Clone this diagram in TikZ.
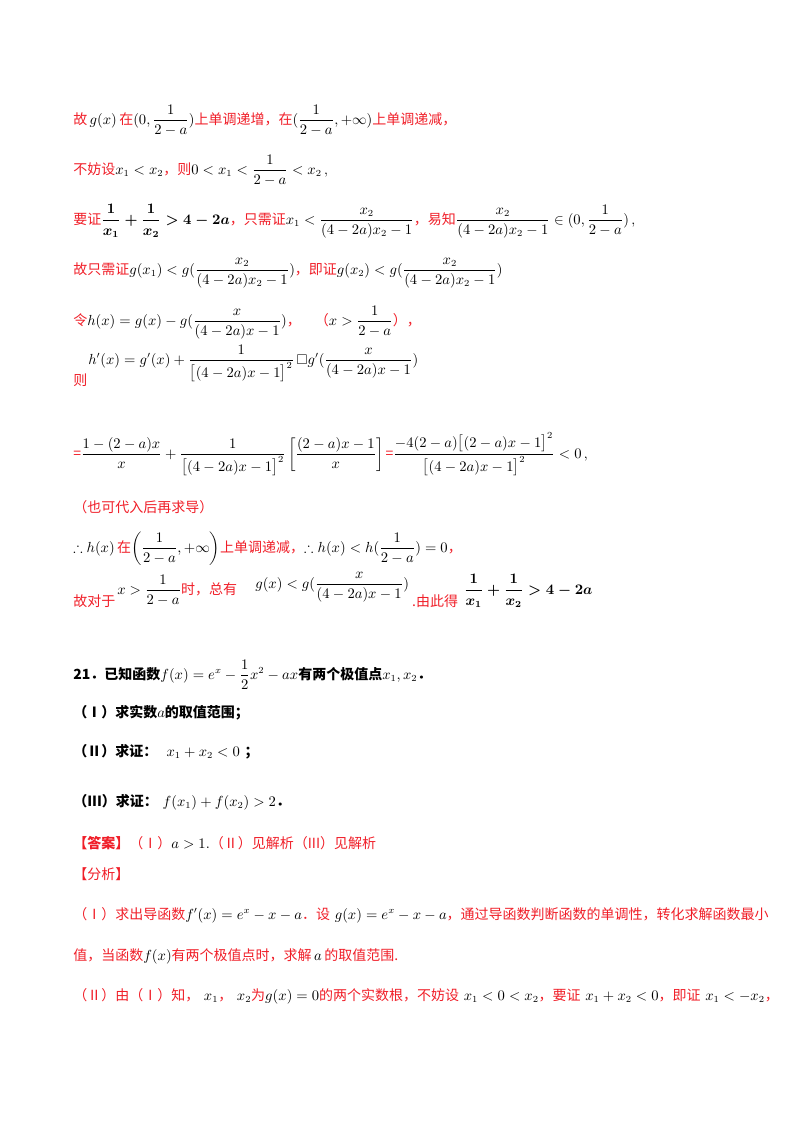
\documentclass[tikz,border=0pt]{standalone}
\usepackage{amsmath,amssymb}
\usepackage{fontspec}
\newfontfamily\cjk{Noto Sans CJK SC}
\definecolor{rd}{RGB}{240,30,40}
\newcommand{\R}[1]{{\cjk\color{rd}#1}}
\newcommand{\B}[1]{{\cjk\bfseries #1}}
\begin{document}
\begin{tikzpicture}[x=0.75pt,y=-0.75pt,line/.style={anchor=base west,inner sep=0pt,font=\fontsize{10.5}{12}\selectfont}]
\useasboundingbox (0,0) rectangle (800,1132);
\node[line] (l1) at (73,124) {\R{故}$\,g(x)\,$\R{在}$(0,\dfrac{1}{2-a})$\R{上单调递增，在}$(\dfrac{1}{2-a},+\infty)$\R{上单调递减，}};
\node[line] (l2) at (73,174) {\R{不妨设}$x_1<x_2$\R{，则}$0<x_1<\dfrac{1}{2-a}<x_2$\,,};
\node[line] (l3) at (73,224) {\R{要证}$\boldsymbol{\dfrac{1}{x_1}+\dfrac{1}{x_2}>4-2a}$\R{，只需证}$x_1<\dfrac{x_2}{(4-2a)x_2-1}$\R{，易知}$\dfrac{x_2}{(4-2a)x_2-1}\in(0,\dfrac{1}{2-a})$\,,};
\node[line] (l4) at (73,274) {\R{故只需证}$g(x_1)<g(\dfrac{x_2}{(4-2a)x_2-1})$\R{，即证}$g(x_2)<g(\dfrac{x_2}{(4-2a)x_2-1})$};
\node[line] (l5) at (73,325) {\R{令}$h(x)=g(x)-g(\dfrac{x}{(4-2a)x-1})$\R{，\quad（}$x>\dfrac{1}{2-a}$\R{），}};
\node[line] (l6a) at (88,364) {$h'(x)=g'(x)+\dfrac{1}{\bigl[(4-2a)x-1\bigr]^2}\,\square g'(\dfrac{x}{(4-2a)x-1})$};
\node[line] (l6b) at (73,385) {\R{则}};
\node[line] (l7a) at (73,458) {\R{=}$\dfrac{1-(2-a)x}{x}+\dfrac{1}{\bigl[(4-2a)x-1\bigr]^2}\left[\dfrac{(2-a)x-1}{x}\right]$};
\node[line] (l7b) at ([xshift=1pt]l7a.base east) {\R{=}$\dfrac{-4(2-a)\bigl[(2-a)x-1\bigr]^2}{\bigl[(4-2a)x-1\bigr]^2}<0$\,,};
\node[line] (l8) at (73,512) {\R{（也可代入后再求导）}};
\node[line] (l9) at (73,552) {$\therefore h(x)$\,\R{在}$\left(\dfrac{1}{2-a},+\infty\right)$\R{上单调递减，}$\therefore h(x)<h(\dfrac{1}{2-a})=0$\R{，}};
\node[line] (l10a) at (73,606) {\R{故对于}};
\node[line] (l10b) at (117,594) {$x>\dfrac{1}{2-a}$\R{时，总有}};
\node[line] (l10c) at (255,588) {$g(x)<g(\dfrac{x}{(4-2a)x-1})$};
\node[line] (l10d) at ([xshift=2pt]l10c.east |- l10a.base) {\R{.由此得}};
\node[line] (l10e) at ([xshift=4pt]l10d.base east |- l10b.base) {$\boldsymbol{\dfrac{1}{x_1}+\dfrac{1}{x_2}>4-2a}$};
\node[line] (q1) at (73,679) {\B{21．已知函数}$f(x)=e^x-\dfrac12x^2-ax$\B{有两个极值点}$x_1,x_2$\B{．}};
\node[line] (q2) at (73,717) {\B{（Ⅰ）求实数}$a$\B{的取值范围；}};
\node[line] (q3) at (73,756) {\B{（Ⅱ）求证：}\ \ $x_1+x_2<0$\ \B{；}};
\node[line] (q4) at (73,806) {\B{（III）求证：}\ $f(x_1)+f(x_2)>2$\B{．}};
\node[line] (a1) at (73,848) {{\cjk\bfseries\color{rd}【答案】}\R{（Ⅰ）}$a>1.$\R{（Ⅱ）见解析（III）见解析}};
\node[line] (a2) at (73,879) {\R{【分析】}};
\node[line] (a3) at (73,919) {\R{（Ⅰ）求出导函数}$f'(x)=e^x-x-a$\R{．设}\ $g(x)=e^x-x-a$\R{，通过导函数判断函数的单调性，转化求解函数最小}};
\node[line] (a4) at (73,960) {\R{值，当函数}$f(x)$\R{有两个极值点时，求解}$\,a\,$\R{的取值范围.}};
\node[line] (a5) at (73,1000) {\R{（Ⅱ）由（Ⅰ）知，}\ $x_1$\R{，}\ $x_2$\R{为}$g(x)=0$\R{的两个实数根，不妨设}\ $x_1<0<x_2$\R{，要证}\ $x_1+x_2<0$\R{，即证}\ $x_1<-x_2$\R{，}};
\end{tikzpicture}
\end{document}
